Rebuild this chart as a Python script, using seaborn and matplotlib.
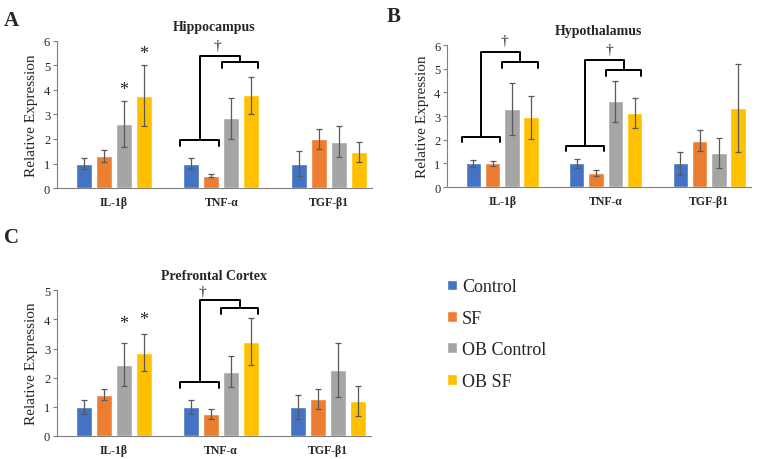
import pandas as pd
import matplotlib.pyplot as plt
from matplotlib.patches import Patch
import seaborn as sns

genes = ['IL-1β', 'TNF-α', 'TGF-β1']
groups = ['Control', 'SF', 'OB Control', 'OB SF']
colors = ['#4472C4', '#ED7D31', '#A5A5A5', '#FFC000']

# rows = gene, columns = group
hip_mean = [[1.00, 1.31, 2.61, 3.77], [1.00, 0.50, 2.85, 3.78], [1.00, 1.99, 1.88, 1.46]]
hip_err = [[0.22, 0.26, 0.93, 1.23], [0.22, 0.065, 0.83, 0.75], [0.50, 0.40, 0.63, 0.40]]
hyp_mean = [[1.00, 1.00, 3.30, 2.95], [1.00, 0.59, 3.62, 3.13], [1.00, 1.96, 1.43, 3.34]]
hyp_err = [[0.16, 0.12, 1.10, 0.90], [0.19, 0.12, 0.87, 0.65], [0.47, 0.44, 0.63, 1.86]]
pfc_mean = [[1.00, 1.42, 2.45, 2.86], [1.00, 0.75, 2.21, 3.24], [1.00, 1.26, 2.27, 1.20]]
pfc_err = [[0.23, 0.20, 0.74, 0.63], [0.23, 0.16, 0.54, 0.80], [0.40, 0.34, 0.92, 0.50]]

# significance marks: (gene, group, y)
hip_stars = [(0, 2, 4.03), (0, 3, 5.49)]
pfc_stars = [(0, 2, 3.86), (0, 3, 4.00)]
# brackets: (gene, low y, high y, top y, dagger x offset, dagger y)
hip_brackets = [(1, 1.97, 5.13, 5.40, -0.04, 5.80)]
hyp_brackets = [(0, 2.13, 5.29, 5.71, 0.02, 6.17), (1, 1.75, 4.95, 5.37, 0.04, 5.82)]
pfc_brackets = [(1, 1.86, 4.40, 4.65, -0.17, 4.97)]

sns.set_style('white')
plt.rcParams['font.family'] = ['Liberation Serif', 'DejaVu Serif']


def draw_panel(ax, means, errs, title, ymax, stars, brackets):
    rows = []
    for gi, g in enumerate(genes):
        for hi, h in enumerate(groups):
            rows.append({'gene': g, 'group': h, 'value': means[gi][hi]})
    df = pd.DataFrame(rows)
    sns.barplot(data=df, x='gene', y='value', hue='group', palette=colors, saturation=1,
                width=0.745, gap=0.2, errorbar=None, legend=False, ax=ax)
    bars = list(ax.containers)
    centers = []
    for hi, cont in enumerate(bars):
        xs = [b.get_x() + b.get_width() / 2 for b in cont]
        centers.append(xs)
        ax.errorbar(xs, [m[hi] for m in means], yerr=[e[hi] for e in errs],
                    fmt='none', ecolor='#595959', elinewidth=0.9,
                    capsize=2.5, capthick=0.9, zorder=3)
    bw = bars[0][0].get_width()
    for gi, hi, y in stars:
        ax.text(centers[hi][gi], y, '*', ha='center', va='center', fontsize=13)
    drop = 0.04 * ymax
    for gi, ylo, yhi, ytop, dx, dy in brackets:
        x1 = centers[0][gi] - bw / 2 - 0.03
        x2 = centers[1][gi] + bw / 2
        x3 = x2 + 0.02
        x4 = centers[3][gi] + bw / 2 - 0.01
        m1 = (x1 + x2) / 2
        m2 = (x3 + x4) / 2
        kw = dict(color='black', lw=1.4, solid_capstyle='round', solid_joinstyle='round', clip_on=False)
        ax.plot([x1, x1, x2, x2], [ylo - drop, ylo, ylo, ylo - drop], **kw)
        ax.plot([x3, x3, x4, x4], [yhi - drop, yhi, yhi, yhi - drop], **kw)
        ax.plot([m1, m1, m2, m2], [ylo, ytop, ytop, yhi], **kw)
        ax.text(gi + dx, dy, '†', ha='center', va='center', fontsize=11, clip_on=False)
    ax.set_xlim(-0.53, 2.4)
    ax.set_ylim(0, ymax)
    ax.set_yticks(range(ymax + 1))
    ax.set_title(title, fontsize=10, fontweight='bold', pad=8)
    ax.set_xlabel('')
    ax.set_ylabel('Relative Expression', fontsize=11)
    for lab in ax.get_xticklabels():
        lab.set_fontweight('bold')
    ax.tick_params(axis='x', length=0, labelsize=8.5, pad=6)
    ax.tick_params(axis='y', length=3, width=0.8, color='#808080', labelsize=9, pad=2, left=True)
    sns.despine(ax=ax)
    ax.spines['left'].set_color('#808080')
    ax.spines['bottom'].set_color('#808080')


fig = plt.figure(figsize=(7.62, 4.6), dpi=100)
axA = fig.add_axes([0.075, 0.589, 0.413, 0.32])
axB = fig.add_axes([0.587, 0.591, 0.398, 0.309])
axC = fig.add_axes([0.075, 0.05, 0.412, 0.317])

draw_panel(axA, hip_mean, hip_err, 'Hippocampus', 6, hip_stars, hip_brackets)
draw_panel(axB, hyp_mean, hyp_err, 'Hypothalamus', 6, [], hyp_brackets)
draw_panel(axC, pfc_mean, pfc_err, 'Prefrontal Cortex', 5, pfc_stars, pfc_brackets)

fig.text(0.005, 0.975, 'A', fontsize=15, fontweight='bold', va='top')
fig.text(0.508, 0.985, 'B', fontsize=15, fontweight='bold', va='top')
fig.text(0.005, 0.505, 'C', fontsize=15, fontweight='bold', va='top')

handles = [Patch(facecolor=c, label=g) for c, g in zip(colors, groups)]
fig.legend(handles=handles, loc='upper left', bbox_to_anchor=(0.565, 0.428),
           frameon=False, fontsize=13, handlelength=0.55, handleheight=0.55,
           handletextpad=0.3, labelspacing=0.8)

fig.savefig('out.png', dpi=100)
